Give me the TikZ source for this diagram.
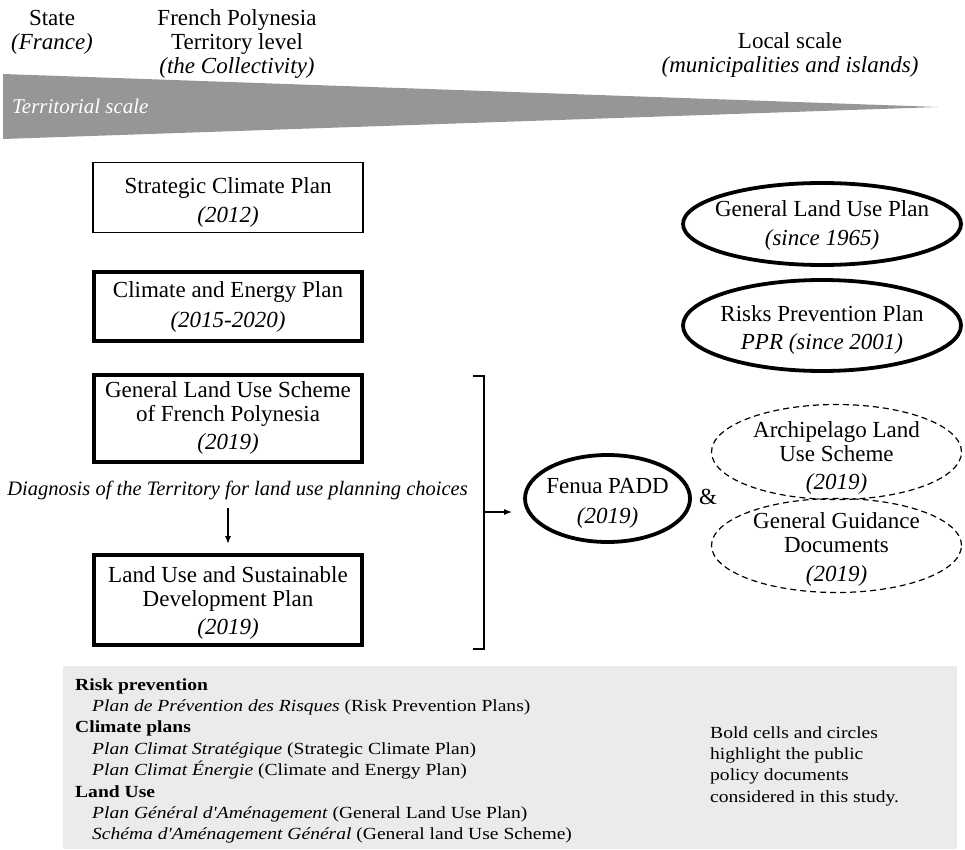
\documentclass[tikz,border=0pt]{standalone}
\usepackage{fontspec}
\setmainfont{Liberation Serif}
\newfontfamily\legendfont{Liberation Serif}[FakeStretch=1.15]
\usetikzlibrary{shapes.geometric,arrows.meta}
\definecolor{wedgegray}{RGB}{150,150,150}
\definecolor{legendbg}{RGB}{235,235,235}
\begin{document}
\begin{tikzpicture}[x=1pt,y=-1pt,
  txt/.style={font=\fontsize{23}{24}\selectfont, align=center, inner sep=0pt},
  thinbox/.style={draw, rectangle, line width=1.2pt, inner sep=0pt, minimum width=270pt},
  thickbox/.style={draw, rectangle, line width=3.8pt, inner sep=0pt, minimum width=268pt},
  thickell/.style={draw, ellipse, line width=3.8pt, inner sep=0pt},
  dashell/.style={draw, ellipse, line width=1.2pt, dash pattern=on 6pt off 4pt, inner sep=0pt, minimum width=250pt},
  conn/.style={line width=1.3pt},
  arr/.style={line width=1.3pt, -{Latex[length=8pt,width=6pt]}},
  legtxt/.style={font=\legendfont\fontsize{17}{21.4}\selectfont, inner sep=0pt, anchor=base west}
  ]
\useasboundingbox (0,0) rectangle (965,850);

% territorial scale wedge
\fill[wedgegray] (3,74) -- (938,107) -- (3,139) -- cycle;
\node[txt, font=\fontsize{21}{24}\selectfont\itshape, text=white, anchor=west] (scale) at (12,106) {Territorial scale};

% headers
\node[txt] (state) at (52,32) {State\\\textit{(France)}};
\node[txt] (fp) at (237,44) {French Polynesia\\Territory level\\\textit{(the Collectivity)}};
\node[txt] (local) at (790,55) {Local scale\\\textit{(municipalities and islands)}};

% territory level boxes
\node[thinbox, minimum height=70pt] (scp) at (228,197.5) {};
\node[txt] (scpT) at (228,202.5) {Strategic Climate Plan\\[5pt]\textit{(2012)}};
\node[thickbox, minimum height=69pt] (cep) at (228,306.5) {};
\node[txt] (cepT) at (228,307) {Climate and Energy Plan\\[6pt]\textit{(2015-2020)}};
\node[thickbox, minimum height=87pt] (glus) at (228,418.5) {};
\node[txt] (glusT) at (228,417.5) {General Land Use Scheme\\of French Polynesia\\[4pt]\textit{(2019)}};
\node[txt, font=\fontsize{20.5}{24}\selectfont\itshape] (diag) at (237.5,490) {Diagnosis of the Territory for land use planning choices};
\node[thickbox, minimum height=90pt] (lusd) at (228,600) {};
\node[txt] (lusdT) at (228,602.5) {Land Use and Sustainable\\Development Plan\\[4pt]\textit{(2019)}};

\draw[arr, shorten <=8pt, shorten >=9pt] (diag.south -| lusd.north) -- (lusd.north);

% bracket
\coordinate (bt) at (484,376);
\coordinate (bb) at (484,649);
\coordinate (bm) at (484,512);
\draw[conn] ([xshift=-11pt]bt) -- (bt) -- (bb) -- ([xshift=-11pt]bb);

% local scale ellipses
\node[thickell, minimum width=278pt, minimum height=82pt] (glup) at (822,224) {};
\node[txt] (glupT) at (822,225) {General Land Use Plan\\[5pt]\textit{(since 1965)}};
\node[thickell, minimum width=278pt, minimum height=91pt] (ppr) at (822,325.5) {};
\node[txt] (pprT) at (822,329.5) {Risks Prevention Plan\\[4pt]\textit{PPR (since 2001)}};
\node[thickell, minimum width=165pt, minimum height=87pt] (fenua) at (607.5,498.5) {};
\node[txt] (fenuaT) at (607.5,503) {Fenua PADD\\[6pt]\textit{(2019)}};
\node[txt] (amp) at (708,497) {\&};
\node[dashell, minimum height=95pt] (arch) at (836.5,452) {};
\node[txt] (archT) at (836.5,458) {Archipelago Land\\Use Scheme\\[4pt]\textit{(2019)}};
\node[dashell, minimum height=94pt] (ggd) at (836.5,545.5) {};
\node[txt] (ggdT) at (836.5,549.5) {General Guidance\\Documents\\[5pt]\textit{(2019)}};

\draw[arr, shorten >=11pt] (bm) -- (bm -| fenua.west);

% legend
\fill[legendbg] (63,666) rectangle (957,849);
\node[legtxt] (l1) at (75,690) {\bfseries Risk prevention};
\node[legtxt] (l2) at (92,711.4) {\itshape Plan de Prévention des Risques \upshape(Risk Prevention Plans)};
\node[legtxt] (l3) at (75,732.8) {\bfseries Climate plans};
\node[legtxt] (l4) at (92,754.2) {\itshape Plan Climat Stratégique \upshape(Strategic Climate Plan)};
\node[legtxt] (l5) at (92,775.6) {\itshape Plan Climat Énergie \upshape(Climate and Energy Plan)};
\node[legtxt] (l6) at (75,797) {\bfseries Land Use};
\node[legtxt] (l7) at (92,818.4) {\itshape Plan Général d'Aménagement \upshape(General Land Use Plan)};
\node[legtxt] (l8) at (92,839.8) {\itshape Schéma d'Aménagement Général \upshape(General land Use Scheme)};

\node[legtxt] (r1) at (710,738) {Bold cells and circles};
\node[legtxt] (r2) at (710,759.4) {highlight the public};
\node[legtxt] (r3) at (710,780.8) {policy documents};
\node[legtxt] (r4) at (710,802.2) {considered in this study.};
\end{tikzpicture}
\end{document}
